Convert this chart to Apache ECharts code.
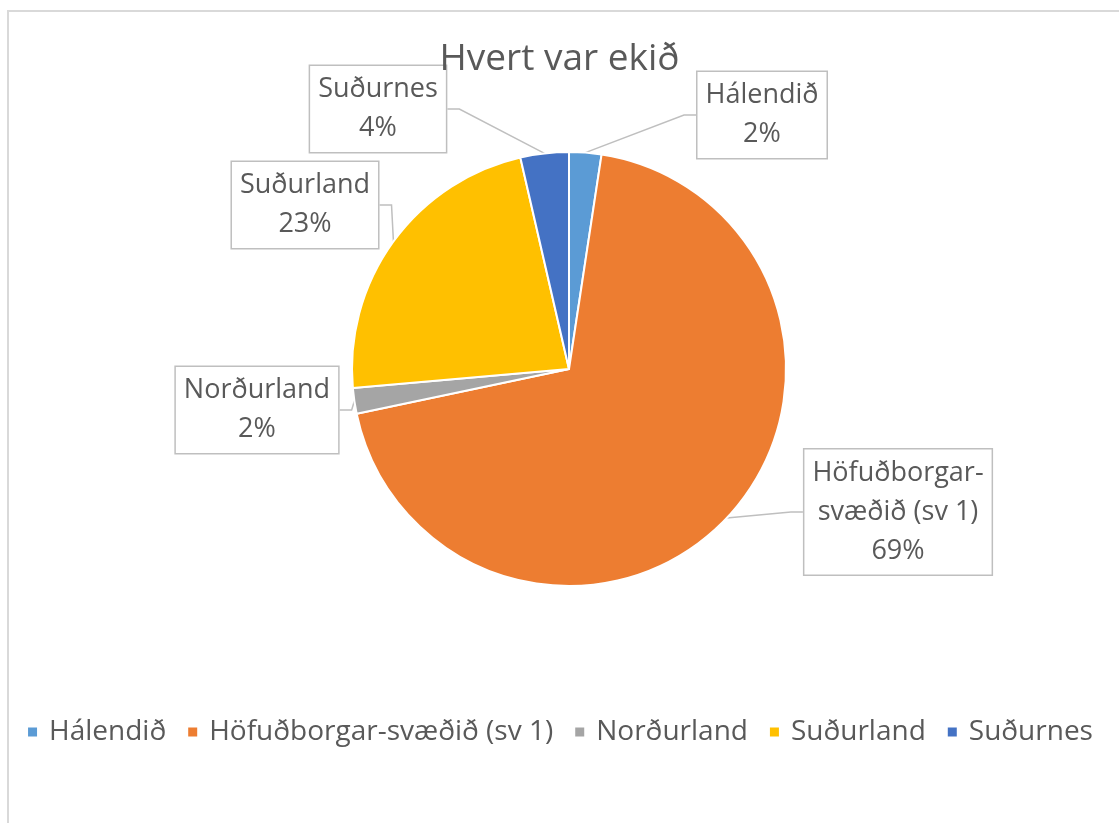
<!DOCTYPE html>
<html>
<head>
<meta charset="utf-8">
<script src="https://cdn.jsdelivr.net/npm/echarts@6/dist/echarts.min.js"></script>
<style>
html,body{margin:0;padding:0;background:#fff;}
#chart{width:1119px;height:823px;}
</style>
</head>
<body>
<div id="chart"></div>
<script>
// Data
const title = 'Hvert var ekið';
const categories = ['Hálendið', 'Höfuðborgar-svæðið (sv 1)', 'Norðurland', 'Suðurland', 'Suðurnes'];
const values = [2.4, 69.3, 1.9, 22.8, 3.6];
const colors = ['#5B9BD5', '#ED7D31', '#A5A5A5', '#FFC000', '#4472C4'];

// Label box placements (style, not data)
const labelPos = [
  [762, 115],
  [898, 512],
  [257, 410],
  [305, 205],
  [378, 109]
];

const chart = echarts.init(document.getElementById('chart'));
const font = '"Open Sans", Lato, sans-serif';
chart.setOption({
  animation: false,
  backgroundColor: '#fff',
  color: colors,
  title: {
    text: title,
    left: 'center',
    top: 36,
    textStyle: {fontFamily: font, fontSize: 37, fontWeight: 'normal', color: '#595959'}
  },
  graphic: [{
    type: 'rect',
    shape: {x: 8, y: 11, width: 1200, height: 900},
    style: {fill: 'none', stroke: '#d9d9d9', lineWidth: 2},
    silent: true
  }],
  legend: {
    bottom: 72,
    left: 'center',
    icon: 'rect',
    itemWidth: 11,
    itemHeight: 11,
    itemGap: 20,
    textStyle: {fontFamily: font, fontSize: 28, color: '#595959', padding: [0, 0, 0, 6]},
    data: categories
  },
  series: [{
    type: 'pie',
    center: [569, 369],
    radius: 217,
    startAngle: 90,
    clockwise: true,
    avoidLabelOverlap: false,
    itemStyle: {borderColor: '#fff', borderWidth: 2},
    data: categories.map((c, i) => ({name: c, value: values[i]})),
    label: {
      show: true,
      position: 'outside',
      formatter: p => p.name.replace('-svæðið', '-\nsvæðið') + '\n' + Math.round(p.percent) + '%',
      fontFamily: font,
      fontSize: 27,
      lineHeight: 39,
      color: '#595959',
      align: 'center',
      backgroundColor: '#fff',
      borderColor: '#bfbfbf',
      borderWidth: 1.5,
      padding: [6, 8, 2, 8]
    },
    labelLine: {
      show: true,
      length: 20,
      length2: 12,
      lineStyle: {color: '#bfbfbf', width: 1.5}
    },
    labelLayout: function (params) {
      const p = labelPos[params.dataIndex];
      return {x: p[0], y: p[1], align: 'center', verticalAlign: 'middle'};
    }
  }]
});
</script>
</body>
</html>
